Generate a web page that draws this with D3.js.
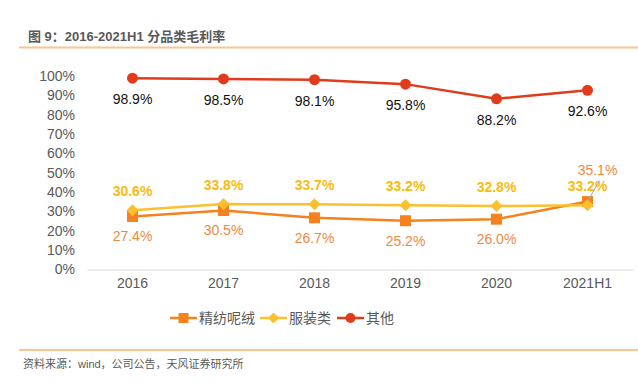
<!DOCTYPE html>
<html><head><meta charset="utf-8">
<script src="https://cdn.jsdelivr.net/npm/d3@7"></script>
<style>body{margin:0;background:#fff}svg{display:block}text{font-family:"Liberation Sans",Arial,"Noto Sans CJK SC",sans-serif}</style>
</head><body><svg id="c" width="638" height="383"></svg>
<script>
const categories = ["2016","2017","2018","2019","2020","2021H1"];
const worsted = [27.4,30.5,26.7,25.2,26.0,35.1];
const apparel = [30.6,33.8,33.7,33.2,32.8,33.2];
const others = [98.9,98.5,98.1,95.8,88.2,92.6];
const yTicks = [0,10,20,30,40,50,60,70,80,90,100];
const seriesNames = ["精纺呢绒","服装类","其他"];

const svg = d3.select("#c");
const font = '"Liberation Sans",Arial,"Noto Sans CJK SC",sans-serif';
const grey = "#595959";

// header
svg.append("text").attr("x",28).attr("y",41).attr("font-size",13).attr("font-weight","bold")
  .attr("fill",grey).text("图 9：2016-2021H1 分品类毛利率");
svg.append("line").attr("x1",19).attr("x2",638).attr("y1",47.5).attr("y2",47.5)
  .attr("stroke","#f9c590").attr("stroke-width",2);
svg.append("line").attr("x1",19).attr("x2",638).attr("y1",350).attr("y2",350)
  .attr("stroke","#f28c33").attr("stroke-width",1.2);
svg.append("text").attr("x",23).attr("y",368).attr("font-size",11)
  .attr("fill",grey).text("资料来源：wind，公司公告，天风证券研究所");

const x = d3.scaleBand().domain(categories).range([87,633]);
const y = d3.scaleLinear().domain([0,100]).range([269.5,76]);
const cx = d => x(d)+x.bandwidth()/2;

// y axis labels
const ya = svg.append("g").attr("transform","translate(75,0)")
  .call(d3.axisLeft(y).tickValues(yTicks).tickFormat(d=>d+"%").tickSize(0).tickPadding(0));
ya.select(".domain").remove();
ya.selectAll("text").attr("font-size",14).attr("fill",grey).attr("font-family",font);

// x axis
const xa = svg.append("g").attr("transform","translate(0,269.5)")
  .call(d3.axisBottom(x).tickSize(0).tickPadding(9));
xa.select(".domain").attr("stroke","#d9d9d9").attr("stroke-width",1.2);
xa.selectAll("text").attr("font-size",14).attr("fill",grey).attr("font-family",font);

const colors = {w:"#f5821f", a:"#fcbf2e", o:"#e03c1c"};
const line = d3.line().x((d,i)=>cx(categories[i])).y(d=>y(d));

function drawSeries(data,color,shape){
  svg.append("path").datum(data).attr("d",line).attr("fill","none")
    .attr("stroke",color).attr("stroke-width",2.5);
  const g = svg.append("g");
  data.forEach((v,i)=>{
    const px=cx(categories[i]), py=y(v);
    if(shape==="square") g.append("rect").attr("x",px-5.5).attr("y",py-5.5).attr("width",11).attr("height",11).attr("fill",color);
    else if(shape==="diamond") g.append("path").attr("d",`M${px},${py-6}L${px+6},${py}L${px},${py+6}L${px-6},${py}Z`).attr("fill",color);
    else g.append("circle").attr("cx",px).attr("cy",py).attr("r",5.5).attr("fill",color);
  });
}
drawSeries(worsted,colors.w,"square");
drawSeries(apparel,colors.a,"diamond");
drawSeries(others,colors.o,"circle");

// data labels
others.forEach((v,i)=>{
  svg.append("text").attr("x",cx(categories[i])).attr("y",y(v)+26).attr("text-anchor","middle")
    .attr("font-size",14).attr("fill","#111").text(v.toFixed(1)+"%");
});
apparel.forEach((v,i)=>{
  svg.append("text").attr("x",cx(categories[i])).attr("y",y(v)-14).attr("text-anchor","middle")
    .attr("font-size",14).attr("font-weight","bold").attr("fill","#fbbb0c").text(v.toFixed(1)+"%");
});
worsted.forEach((v,i)=>{
  const last = i===worsted.length-1;
  const px=cx(categories[i]);
  if(last){
    svg.append("line").attr("x1",px).attr("y1",y(v)).attr("x2",px+12).attr("y2",y(v)-21)
      .attr("stroke","#a6a6a6").attr("stroke-width",1);
    svg.append("text").attr("x",px+10).attr("y",y(v)-27).attr("text-anchor","middle")
      .attr("font-size",14).attr("fill","#f08a3e").text(v.toFixed(1)+"%");
  } else {
    svg.append("text").attr("x",px).attr("y",y(v)+25).attr("text-anchor","middle")
      .attr("font-size",14).attr("fill","#f08a3e").text(v.toFixed(1)+"%");
  }
});

// legend
const leg = [{n:seriesNames[0],c:colors.w,s:"square",x:170},{n:seriesNames[1],c:colors.a,s:"diamond",x:260},{n:seriesNames[2],c:colors.o,s:"circle",x:337}];
const ly=318;
leg.forEach(l=>{
  svg.append("line").attr("x1",l.x).attr("x2",l.x+27).attr("y1",ly).attr("y2",ly).attr("stroke",l.c).attr("stroke-width",2.5);
  const m=l.x+13.5;
  if(l.s==="square") svg.append("rect").attr("x",m-5).attr("y",ly-5).attr("width",10).attr("height",10).attr("fill",l.c);
  else if(l.s==="diamond") svg.append("path").attr("d",`M${m},${ly-5.5}L${m+5.5},${ly}L${m},${ly+5.5}L${m-5.5},${ly}Z`).attr("fill",l.c);
  else svg.append("circle").attr("cx",m).attr("cy",ly).attr("r",5).attr("fill",l.c);
  svg.append("text").attr("x",l.x+29).attr("y",ly+5).attr("font-size",14).attr("fill",grey).text(l.n);
});
</script></body></html>
